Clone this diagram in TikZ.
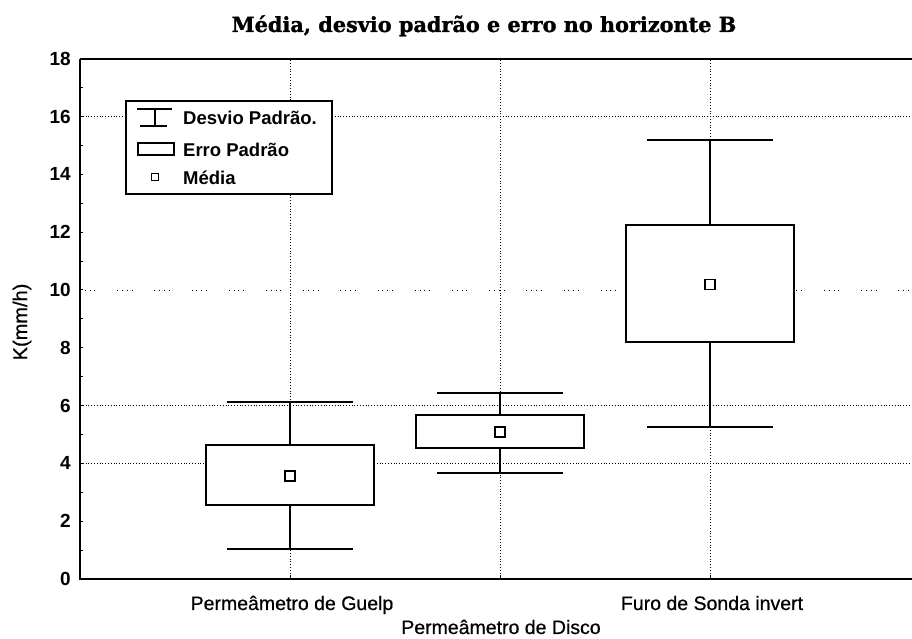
\documentclass[tikz,border=0pt]{standalone}
\usepackage{fontspec}
\setmainfont{Liberation Sans}
\newfontfamily\titlefont{DejaVu Serif}[BoldFeatures={FakeBold=1.2}]
\newfontfamily\heavysans{Liberation Sans}[FakeBold=0.6]
\begin{document}
\begin{tikzpicture}[x=1pt,y=1pt,
  axisline/.style={line width=2pt},
  gridline/.style={line width=0.8pt, dotted},
  sparsegrid/.style={line width=0.8pt, dash pattern=on 0.8pt off 4pt on 0.8pt off 4pt on 0.8pt off 4pt on 0.8pt off 22pt},
  boxline/.style={line width=1.5pt, fill=white},
  whisk/.style={line width=1.5pt},
  meanmark/.style={line width=1.3pt, fill=white},
  ticklab/.style={font=\fontsize{19}{19}\selectfont\bfseries, anchor=east, inner sep=0pt},
  catlab/.style={font=\heavysans\fontsize{19.5}{20}\selectfont, anchor=base, inner sep=0pt},
  leglab/.style={font=\fontsize{18.5}{19}\selectfont\bfseries, anchor=base west, inner sep=0pt},
  legsym/.style={line width=1.1pt}]
\useasboundingbox (0,0) rectangle (912,639);
\fill[white] (0,0) rectangle (912,639);
\node[font=\titlefont\bfseries\fontsize{20.8}{21}\selectfont, anchor=base, inner sep=0pt] (title) at (484,607) {Média, desvio padrão e erro no horizonte B};
\begin{scope}[shift={(80pt,60pt)}, x=210pt, y=28.9pt]
  \foreach \v in {4,6,16} \draw[gridline] (0,\v) -- (3.97,\v);
  \draw[sparsegrid] (0,10) -- (3.97,10);
  \foreach \c in {1,2,3} \draw[gridline] (\c,0) -- (\c,18);
  \foreach \c/\lo/\hi/\m/\wl/\wh in {1/2.56/4.64/3.56/1.04/6.12, 2/4.53/5.67/5.09/3.67/6.44, 3/8.2/12.25/10.2/5.26/15.19}{
    \draw[whisk] (\c,\wl) -- (\c,\wh);
    \draw[whisk] (\c-0.3,\wl) -- (\c+0.3,\wl);
    \draw[whisk] (\c-0.3,\wh) -- (\c+0.3,\wh);
    \draw[boxline] (\c-0.4,\lo) rectangle (\c+0.4,\hi);
    \draw[meanmark] (\c,\m) ++(-5pt,-5pt) rectangle ++(10pt,10pt);
  }
  \draw[axisline] (0,18) -- (0,0) -- (3.97,0);
  \draw[axisline] (0,18) -- (3.97,18);
  \foreach \v in {1,...,17} \draw[line width=1pt] (0,\v) -- ++(3pt,0);
  \foreach \c in {1,2,3} \draw[line width=1pt] (\c,0) -- ++(0,4pt);
  \foreach \v in {0,2,...,18} \node[ticklab] (t\v) at ([xshift=-9pt]0,\v) {\v};
\end{scope}
\node[rotate=90, font=\heavysans\fontsize{20}{20}\selectfont, inner sep=0pt] (ylab) at (22,317) {K(mm/h)};
\node[catlab] (c1) at (292,29) {Permeâmetro de Guelp};
\node[catlab] (c2) at (501,5) {Permeâmetro de Disco};
\node[catlab] (c3) at (712,29) {Furo de Sonda invert};
% legend
\draw[line width=1.4pt, fill=white] (126,445) rectangle (332,538);
\draw[legsym] (137,530) -- (172,530);
\draw[legsym] (155,530) -- (155,513);
\draw[legsym] (140,513) -- (167,513);
\draw[legsym] (138,484) rectangle (174,496);
\draw[legsym] (151.5,458.5) rectangle (158.5,465.5);
\node[leglab] (l1) at (183,514) {Desvio Padrão.};
\node[leglab] (l2) at (183,482) {Erro Padrão};
\node[leglab] (l3) at (183,454) {Média};
\end{tikzpicture}
\end{document}
